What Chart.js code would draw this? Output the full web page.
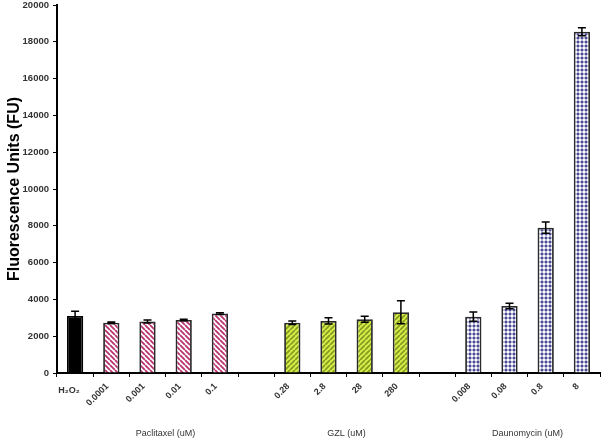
<!DOCTYPE html>
<html>
<head>
<meta charset="utf-8">
<script src="https://cdn.jsdelivr.net/npm/chart.js@4.4.1/dist/chart.umd.min.js"></script>
<style>
  html, body { margin: 0; padding: 0; background: #fff; }
  #wrap { width: 601px; height: 441px; }
</style>
</head>
<body>
<div id="wrap"><canvas id="myChart" width="601" height="441"></canvas></div>
<script>
    // values
    var controlLabels = ['H\u2082O\u2082'];
    var controlValues = [3100];
    var controlErrors = [250];

    var paclitaxelLabels = ['0.0001', '0.001', '0.01', '0.1'];
    var paclitaxelValues = [2730, 2800, 2880, 3230];
    var paclitaxelErrors = [40, 80, 40, 50];

    var gzlLabels = ['0.28', '2.8', '28', '280'];
    var gzlValues = [2730, 2830, 2920, 3300];
    var gzlErrors = [100, 170, 160, 630];

    var daunoLabels = ['0.008', '0.08', '0.8', '8'];
    var daunoValues = [3060, 3640, 7900, 18550];
    var daunoErrors = [250, 150, 300, 220];

    var yTicks = [0, 2000, 4000, 6000, 8000, 10000, 12000, 14000, 16000, 18000, 20000];

    var groupTitles = ['Paclitaxel (uM)', 'GZL (uM)', 'Daunomycin (uM)'];

    function stripes(bg, fg, dir) {
      var s = 5;
      var c = document.createElement('canvas');
      c.width = s; c.height = s;
      var g = c.getContext('2d');
      g.fillStyle = bg;
      g.fillRect(0, 0, s, s);
      g.strokeStyle = fg;
      g.lineWidth = 1.8;
      g.beginPath();
      for (var k = -s; k <= s; k += s) {
        if (dir > 0) { g.moveTo(k, s); g.lineTo(k + s, 0); }
        else { g.moveTo(k, 0); g.lineTo(k + s, s); }
      }
      g.stroke();
      return g.createPattern(c, 'repeat');
    }

    function dots() {
      var c = document.createElement('canvas');
      c.width = 4; c.height = 4;
      var g = c.getContext('2d');
      g.fillStyle = '#ffffff';
      g.fillRect(0, 0, 4, 4);
      g.fillStyle = '#b4b4d6';
      g.fillRect(0, 1, 4, 2);
      g.fillRect(1, 0, 2, 4);
      g.fillStyle = '#4b4b8f';
      g.fillRect(1, 1, 2, 2);
      return g.createPattern(c, 'repeat');
    }

    var pinkFill = stripes('#ffffff', '#b8326f', -1);
    var greenFill = stripes('#d6f04a', '#8a9a20', 1);
    var blueFill = dots();

    // build the full category row, with one empty slot between groups
    var labels = [], values = [], errors = [], fills = [], borders = [];
    function addGroup(l, v, e, fill, border) {
      for (var i = 0; i < l.length; i++) {
        labels.push(l[i]); values.push(v[i]); errors.push(e[i]);
        fills.push(fill); borders.push(border);
      }
    }
    function addGap() {
      labels.push(''); values.push(null); errors.push(null);
      fills.push('transparent'); borders.push('transparent');
    }
    addGroup(controlLabels, controlValues, controlErrors, '#000000', '#000000');
    addGroup(paclitaxelLabels, paclitaxelValues, paclitaxelErrors, pinkFill, '#2a2a2a');
    addGap();
    addGroup(gzlLabels, gzlValues, gzlErrors, greenFill, '#2a2a2a');
    addGap();
    addGroup(daunoLabels, daunoValues, daunoErrors, blueFill, '#2a2a2a');

    var groups = [
      { title: groupTitles[0], from: 1, to: 4 },
      { title: groupTitles[1], from: 6, to: 9 },
      { title: groupTitles[2], from: 11, to: 14 }
    ];

    var errorBars = {
      id: 'errorBars',
      afterDatasetsDraw: function (chart) {
        var ctx = chart.ctx;
        var meta = chart.getDatasetMeta(0);
        var y = chart.scales.y;
        ctx.save();
        ctx.strokeStyle = '#000';
        ctx.lineWidth = 1.5;
        for (var i = 0; i < values.length; i++) {
          if (values[i] == null) continue;
          var x = meta.data[i].x;
          var top = y.getPixelForValue(values[i] + errors[i]);
          var bot = y.getPixelForValue(values[i] - errors[i]);
          ctx.beginPath();
          ctx.moveTo(x, top); ctx.lineTo(x, bot);
          ctx.moveTo(x - 4, top); ctx.lineTo(x + 4, top);
          ctx.moveTo(x - 4, bot); ctx.lineTo(x + 4, bot);
          ctx.stroke();
        }
        ctx.restore();
      }
    };

    var xLabels = {
      id: 'xLabels',
      afterDraw: function (chart) {
        var ctx = chart.ctx;
        var x = chart.scales.x;
        var base = chart.chartArea.bottom;
        ctx.save();
        ctx.fillStyle = '#333';
        ctx.font = 'bold 9px "Liberation Sans", Arial, sans-serif';
        for (var i = 0; i < labels.length; i++) {
          if (!labels[i]) continue;
          var px = x.getPixelForValue(i);
          if (i === 0) {
            ctx.textAlign = 'center';
            ctx.textBaseline = 'middle';
            ctx.fillText(labels[i], px - 6, base + 18);
            continue;
          }
          ctx.save();
          ctx.translate(px - 4, base + 12);
          ctx.rotate(-Math.PI / 4);
          ctx.textAlign = 'right';
          ctx.textBaseline = 'middle';
          ctx.fillText(labels[i], 0, 0);
          ctx.restore();
        }
        ctx.font = '9px "Liberation Sans", Arial, sans-serif';
        ctx.textAlign = 'center';
        ctx.textBaseline = 'middle';
        for (var g = 0; g < groups.length; g++) {
          var cx = (x.getPixelForValue(groups[g].from) + x.getPixelForValue(groups[g].to)) / 2;
          ctx.fillText(groups[g].title, cx, base + 61);
        }
        ctx.restore();
      }
    };

    var ctx = document.getElementById('myChart');
    var myChart = new Chart(ctx, {
      type: 'bar',
      data: {
        labels: labels,
        datasets: [{
          data: values,
          backgroundColor: fills,
          borderColor: borders,
          borderWidth: 1.8,
          barPercentage: 0.45,
          categoryPercentage: 1
        }]
      },
      options: {
        responsive: false,
        animation: false,
        layout: { padding: { top: 5, right: 1, left: 0, bottom: 0 } },
        plugins: {
          legend: { display: false },
          tooltip: { enabled: false }
        },
        scales: {
          x: {
            grid: { display: true, drawOnChartArea: false, color: '#000', tickLength: 4, offset: true },
            border: { color: '#000', width: 2 },
            ticks: { display: false },
            afterFit: function (scale) { scale.height = 68; }
          },
          y: {
            min: 0,
            max: 20000,
            afterBuildTicks: function (scale) {
              scale.ticks = yTicks.map(function (v) { return { value: v }; });
            },
            grid: { display: true, drawOnChartArea: false, color: '#000', tickLength: 4 },
            border: { color: '#000', width: 2 },
            ticks: {
              color: '#333',
              padding: 4,
              callback: function (v) { return String(v); },
              font: { family: '"Liberation Sans", Arial, sans-serif', size: 9.5, weight: 'bold' }
            },
            title: {
              display: true,
              text: 'Fluorescence Units (FU)',
              color: '#000',
              padding: { top: 5, bottom: 0 },
              font: { family: '"Liberation Sans", Arial, sans-serif', size: 16, weight: 'bold' }
            },
            afterFit: function (scale) {
              scale.width = 57;
              scale.paddingTop = 0;
              scale.paddingBottom = 0;
            }
          }
        }
      },
      plugins: [errorBars, xLabels]
    });
</script>
</body>
</html>
